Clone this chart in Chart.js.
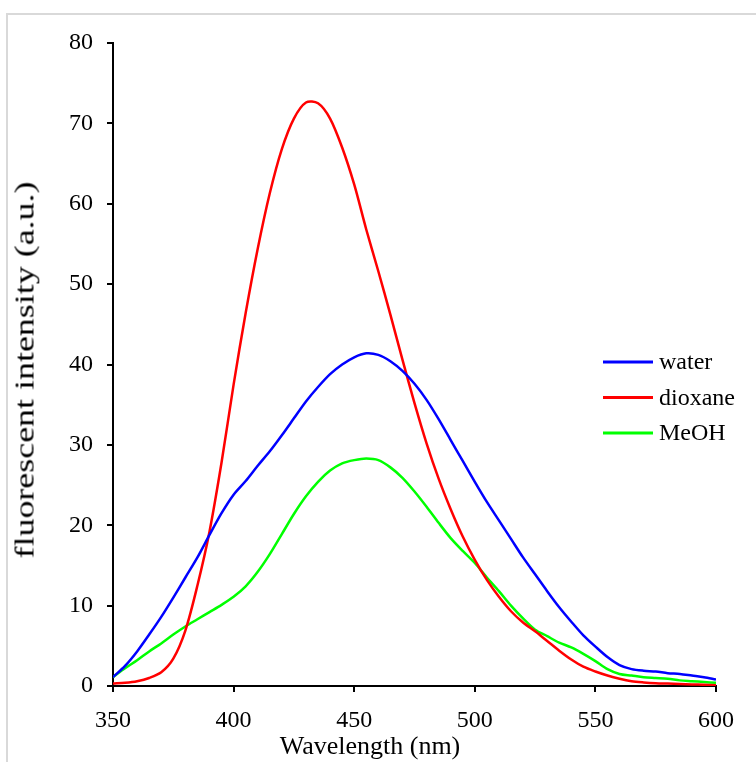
<!DOCTYPE html>
<html>
<head>
<meta charset="utf-8">
<script src="https://cdn.jsdelivr.net/npm/chart.js@4.4.1/dist/chart.umd.min.js"></script>
<style>
  html, body { margin: 0; padding: 0; background: #fff; overflow: hidden; }
  #wrap { position: relative; width: 756px; height: 762px; overflow: hidden; }
  #frame {
    position: absolute; left: 6px; top: 13px; width: 800px; height: 800px;
    border: 2px solid #d9d9d9; box-sizing: border-box;
  }
  canvas { position: absolute; left: 0; top: 0; }
  .title {
    position: absolute; font-family: "Liberation Serif", "Times New Roman", serif;
    color: #000; white-space: nowrap;
  }
  #xtitle { left: 370px; top: 733px; font-size: 26px; line-height: 26px; transform: translateX(-50%); }
  #ytitle { left: 25px; top: 370px; font-size: 27px; line-height: 27px;
            transform: translate(-50%, -50%) rotate(-90deg) scaleX(1.33); }
</style>
</head>
<body>
<div id="wrap">
  <div id="frame"></div>
  <canvas id="chart" width="756" height="762"></canvas>
  <div class="title" id="xtitle">Wavelength (nm)</div>
  <div class="title" id="ytitle">fluorescent intensity (a.u.)</div>
</div>
<script>
  // Emission spectra, 5 nm steps
  const wavelengths = [350, 355, 360, 365, 370, 375, 380, 385, 390, 395, 400, 405, 410, 415, 420, 425, 430, 435, 440, 445, 450, 455, 460, 465, 470, 475, 480, 485, 490, 495, 500, 505, 510, 515, 520, 525, 530, 535, 540, 545, 550, 555, 560, 565, 570, 575, 580, 585, 590, 595, 600];

  const water = [1.1, 2.5, 4.3, 6.4, 8.6, 11.0, 13.5, 16.0, 18.8, 21.5, 23.8, 25.5, 27.4, 29.2, 31.2, 33.3, 35.4, 37.2, 38.8, 40.0, 40.9, 41.4, 41.2, 40.4, 39.2, 37.6, 35.6, 33.2, 30.6, 28.0, 25.4, 22.9, 20.6, 18.3, 16.0, 13.9, 11.8, 9.8, 8.0, 6.3, 4.9, 3.6, 2.6, 2.1, 1.9, 1.8, 1.6, 1.5, 1.3, 1.1, 0.8];

  const dioxane = [0.3, 0.4, 0.6, 1.0, 1.7, 3.4, 6.9, 12.5, 19.2, 27.8, 37.5, 46.4, 54.4, 61.3, 66.8, 70.6, 72.6, 72.5, 70.6, 67.0, 62.4, 56.8, 51.6, 46.2, 40.6, 35.2, 30.2, 25.8, 22.0, 18.6, 15.7, 13.2, 11.1, 9.3, 7.9, 6.8, 5.6, 4.4, 3.3, 2.4, 1.8, 1.3, 0.9, 0.6, 0.45, 0.35, 0.3, 0.25, 0.2, 0.15, 0.1];

  const meoh = [1.1, 2.2, 3.2, 4.3, 5.3, 6.4, 7.4, 8.3, 9.2, 10.1, 11.1, 12.4, 14.2, 16.4, 18.9, 21.4, 23.6, 25.4, 26.8, 27.7, 28.1, 28.3, 28.1, 27.2, 25.9, 24.2, 22.3, 20.3, 18.4, 16.8, 15.3, 13.5, 11.8, 10.0, 8.4, 7.0, 6.2, 5.4, 4.8, 4.0, 3.1, 2.1, 1.5, 1.3, 1.1, 1.0, 0.9, 0.7, 0.6, 0.5, 0.4];

  const seriesNames = ["water", "dioxane", "MeOH"];
  const seriesColors = ["#0000ff", "#ff0000", "#00ff00"];
  const xTicks = { min: 350, max: 600, step: 50 };
  const yTicks = { min: 0, max: 80, step: 10 };

  const FONT = { family: '"Liberation Serif", "Times New Roman", serif', size: 24 };

  function toPoints(values) {
    return values.map((v, i) => ({ x: wavelengths[i], y: v }));
  }

  // legend drawn inside the plot area, on the right
  const innerLegend = {
    id: "innerLegend",
    afterDraw(chart, args, opts) {
      const ctx = chart.ctx;
      ctx.save();
      ctx.font = `${FONT.size}px ${FONT.family}`;
      ctx.textAlign = "left";
      ctx.textBaseline = "middle";
      chart.data.datasets.forEach((ds, i) => {
        const y = opts.top + i * opts.rowGap;
        ctx.strokeStyle = ds.borderColor;
        ctx.lineWidth = 3;
        ctx.beginPath();
        ctx.moveTo(opts.left, y);
        ctx.lineTo(opts.left + opts.lineLen, y);
        ctx.stroke();
        ctx.fillStyle = "#000";
        ctx.fillText(ds.label, opts.left + opts.lineLen + 6, y + 1);
      });
      ctx.restore();
    },
  };

  const axisCommon = {
    type: "linear",
    grid: { drawOnChartArea: false, drawTicks: true, tickLength: 6, color: "#000", lineWidth: 2 },
    border: { display: true, color: "#000", width: 2 },
  };

  new Chart(document.getElementById("chart"), {
    type: "line",
    data: {
      datasets: [water, dioxane, meoh].map((vals, i) => ({
        label: seriesNames[i],
        data: toPoints(vals),
        borderColor: seriesColors[i],
        backgroundColor: seriesColors[i],
        borderWidth: 2.5,
        pointRadius: 0,
        tension: 0.3,
        fill: false,
      })),
    },
    options: {
      responsive: false,
      devicePixelRatio: 1,
      animation: false,
      layout: { padding: { top: 43, right: 40, left: 0, bottom: 0 } },
      plugins: {
        legend: { display: false },
        tooltip: { enabled: false },
        innerLegend: { left: 603, top: 362, rowGap: 35.5, lineLen: 50 },
      },
      scales: {
        x: {
          ...axisCommon,
          min: xTicks.min,
          max: xTicks.max,
          ticks: { stepSize: xTicks.step, color: "#000", font: FONT, padding: 14, maxRotation: 0 },
          afterFit: (s) => { s.height = 76; },
        },
        y: {
          ...axisCommon,
          min: yTicks.min,
          max: yTicks.max,
          ticks: { stepSize: yTicks.step, color: "#000", font: FONT, padding: 14 },
          afterFit: (s) => { s.width = 113; },
        },
      },
    },
    plugins: [innerLegend],
  });
</script>
</body>
</html>
